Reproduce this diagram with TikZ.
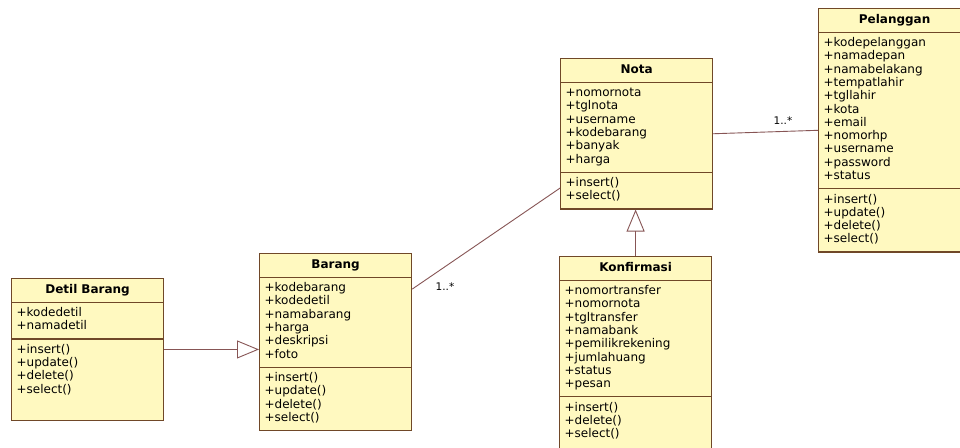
\documentclass[tikz,border=0pt]{standalone}
\usepackage{fontspec}
\newfontfamily\umlfont{DejaVu Sans}
\usetikzlibrary{shapes.multipart,arrows.meta}
\definecolor{classfill}{RGB}{255,249,192}
\definecolor{classline}{RGB}{112,72,40}
\definecolor{assocline}{RGB}{135,85,85}
\tikzstyle{uml_class} = [rectangle split, rectangle split parts=3, draw=classline, fill=classfill, line width=1.2pt, text width=142pt, inner xsep=5pt, inner ysep=4.5pt, align=left, anchor=north west, font=\umlfont\fontsize{12}{13.3}\selectfont]
\tikzstyle{uml_assoc} = [draw=assocline, line width=0.9pt]
\tikzstyle{uml_gen} = [uml_assoc, -{Triangle[open, length=22pt, width=18pt]}]
\tikzstyle{uml_mult} = [font=\umlfont\fontsize{10.5}{12}\selectfont, inner sep=0pt]
\newcommand{\classtitle}[1]{{\centering\bfseries\strut#1\strut\par}}
\begin{document}
\begin{tikzpicture}[x=1pt, y=-1pt]
\path[use as bounding box, clip] (0,0) rectangle (960,447);
\fill[white] (0,0) rectangle (960,447);

\node [uml_class] (detil) at (11,278) {\classtitle{Detil Barang}
    \nodepart{two} \strut+kodedetil\\+namadetil\strut
    \nodepart{three} \strut+insert()\\+update()\\+delete()\\+select()\rule[-22pt]{0pt}{0pt}};

\node [uml_class] (barang) at (259,253) {\classtitle{Barang}
    \nodepart{two} \strut+kodebarang\\+kodedetil\\+namabarang\\+harga\\+deskripsi\\+foto\strut
    \nodepart{three} \strut+insert()\\+update()\\+delete()\\+select()\strut};

\node [uml_class] (nota) at (560,58) {\classtitle{Nota}
    \nodepart{two} \strut+nomornota\\+tglnota\\+username\\+kodebarang\\+banyak\\+harga\strut
    \nodepart{three} \strut+insert()\\+select()\strut};

\node [uml_class] (konfirmasi) at (559,256) {\classtitle{Konfirmasi}
    \nodepart{two} \strut+nomortransfer\\+nomornota\\+tgltransfer\\+namabank\\+pemilikrekening\\+jumlahuang\\+status\\+pesan\strut
    \nodepart{three} \strut+insert()\\+delete()\\+select()\rule[-30pt]{0pt}{0pt}};

\node [uml_class] (pelanggan) at (818,8) {\classtitle{Pelanggan}
    \nodepart{two} \strut+kodepelanggan\\+namadepan\\+namabelakang\\+tempatlahir\\+tgllahir\\+kota\\+email\\+nomorhp\\+username\\+password\\+status\strut
    \nodepart{three} \strut+insert()\\+update()\\+delete()\\+select()\strut};

% relations
\draw [uml_gen] (detil.east) -- (detil.east -| barang.west);
\draw [uml_gen] (konfirmasi.north) -- (konfirmasi.north |- nota.south);
\draw [uml_assoc] ([yshift=-12pt]barang.text split east) -- ([yshift=-16pt]nota.two split west);
\draw [uml_assoc] (nota.east) -- (pelanggan.west);

% multiplicities
\node [uml_mult] (mult_barang) at (445,287) {1..*};
\node [uml_mult] (mult_pelanggan) at (783,121) {1..*};
\end{tikzpicture}
\end{document}
